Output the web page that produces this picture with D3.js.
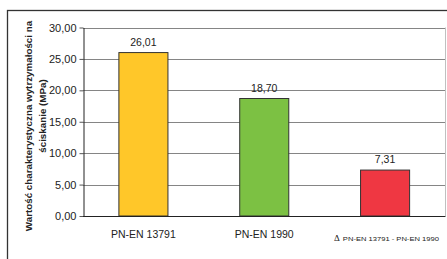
<!DOCTYPE html>
<html>
<head>
<meta charset="utf-8">
<script src="https://cdn.jsdelivr.net/npm/d3@7"></script>
<style>
  body { margin: 0; background: #fff; }
  text { font-family: "Liberation Sans", Arial, sans-serif; fill: #222; }
</style>
</head>
<body>
<div id="chart"></div>
<script>
// data
const categories = ["PN-EN 13791", "PN-EN 1990", "delta"];
const values = [26.01, 18.70, 7.31];
const barColors = ["#ffc729", "#7cc143", "#ef3742"];
const yTicks = [0, 5, 10, 15, 20, 25, 30];
const yTitle = ["Wartość charakterystyczna wytrzymałości na", "ściskanie (MPa)"];

let w = 447, h = 259;
let plot = { left: 83, right: 445.5, top: 27.5, bottom: 216 };

let svg = d3.select("#chart")
            .append("svg")
            .attr("width", w)
            .attr("height", h);

// outer frame of the chart (cut off on the right and bottom)
svg.append("rect")
    .attr("x", 7.5)
    .attr("y", 10.5)
    .attr("width", 460)
    .attr("height", 270)
    .attr("fill", "none")
    .attr("stroke", "#333")
    .attr("stroke-width", 1.3);

let yScale = d3.scaleLinear()
                .domain([0, 30])
                .range([plot.bottom, plot.top]);

let xScale = d3.scaleBand()
                .domain(categories)
                .range([plot.left, plot.right])
                .paddingInner(0.594)
                .paddingOuter(0.297);

//gridlines
svg.append("g")
    .selectAll("line")
    .data(yTicks.filter(d => d > 0))
    .enter()
    .append("line")
    .attr("x1", plot.left)
    .attr("x2", plot.right)
    .attr("y1", d => Math.round(yScale(d)) + 0.5)
    .attr("y2", d => Math.round(yScale(d)) + 0.5)
    .attr("stroke", "#858585");

// right border of the plot area
svg.append("line")
    .attr("x1", plot.right)
    .attr("x2", plot.right)
    .attr("y1", plot.top)
    .attr("y2", plot.bottom)
    .attr("stroke", "#c0c0c0");

let yAxis = d3.axisLeft(yScale)
                .tickValues(yTicks)
                .tickSizeInner(4)
                .tickSizeOuter(0)
                .tickPadding(3)
                .tickFormat(d => d3.format(".2f")(d).replace(".", ","));

let gy = svg.append("g")
    .attr("transform", `translate(${plot.left + 0.5}, 0)`)
    .call(yAxis);
gy.select(".domain").attr("stroke", "#222");
gy.selectAll(".tick line").attr("stroke", "#555");
gy.selectAll(".tick text")
    .attr("font-size", "11px")
    .attr("font-family", null)
    .attr("fill", "#222");

//bars
svg.append("g")
    .selectAll("rect")
    .data(values)
    .enter()
    .append("rect")
    .attr("x", (d, i) => xScale(categories[i]))
    .attr("y", d => yScale(d))
    .attr("width", xScale.bandwidth())
    .attr("height", d => yScale(0) - yScale(d))
    .attr("fill", (d, i) => barColors[i])
    .attr("stroke", "#333")
    .attr("stroke-width", 1);

//value labels
svg.append("g")
    .selectAll("text")
    .data(values)
    .enter()
    .append("text")
    .attr("x", (d, i) => xScale(categories[i]) + xScale.bandwidth() / 2)
    .attr("y", d => yScale(d) - 7)
    .attr("text-anchor", "middle")
    .attr("font-size", "10.5px")
    .text(d => d3.format(".2f")(d).replace(".", ","));

// x axis line
svg.append("line")
    .attr("x1", plot.left)
    .attr("x2", plot.right)
    .attr("y1", plot.bottom + 0.5)
    .attr("y2", plot.bottom + 0.5)
    .attr("stroke", "#222");

//category labels
let xl = svg.append("g")
    .selectAll("text")
    .data(categories)
    .enter()
    .append("text")
    .attr("x", d => xScale(d) + xScale.bandwidth() / 2)
    .attr("y", 237.5)
    .attr("text-anchor", "middle")
    .attr("font-size", "10.5px");

xl.filter(d => d !== "delta").text(d => d);

// the difference label: a serif delta and a small, wide caption
let delta = xl.filter(d => d === "delta")
    .attr("text-anchor", "start")
    .attr("x", d => xScale(d) + xScale.bandwidth() / 2 - 51)
    .attr("y", 241);
delta.append("tspan")
    .attr("font-family", "'Liberation Serif', serif")
    .attr("font-size", "9px")
    .text("Δ");
delta.append("tspan")
    .attr("dx", 3)
    .attr("font-size", "5.2px")
    .attr("textLength", 96)
    .attr("lengthAdjust", "spacingAndGlyphs")
    .text(categories[0] + " - " + categories[1]);

//axis title
let title = svg.append("text")
    .attr("transform", "rotate(-90)")
    .attr("text-anchor", "middle")
    .attr("font-weight", "bold")
    .attr("font-size", "9.8px");
title.append("tspan")
    .attr("x", -126)
    .attr("y", 31.5)
    .text(yTitle[0]);
title.append("tspan")
    .attr("x", -116)
    .attr("y", 45.5)
    .text(yTitle[1]);
</script>
</body>
</html>
